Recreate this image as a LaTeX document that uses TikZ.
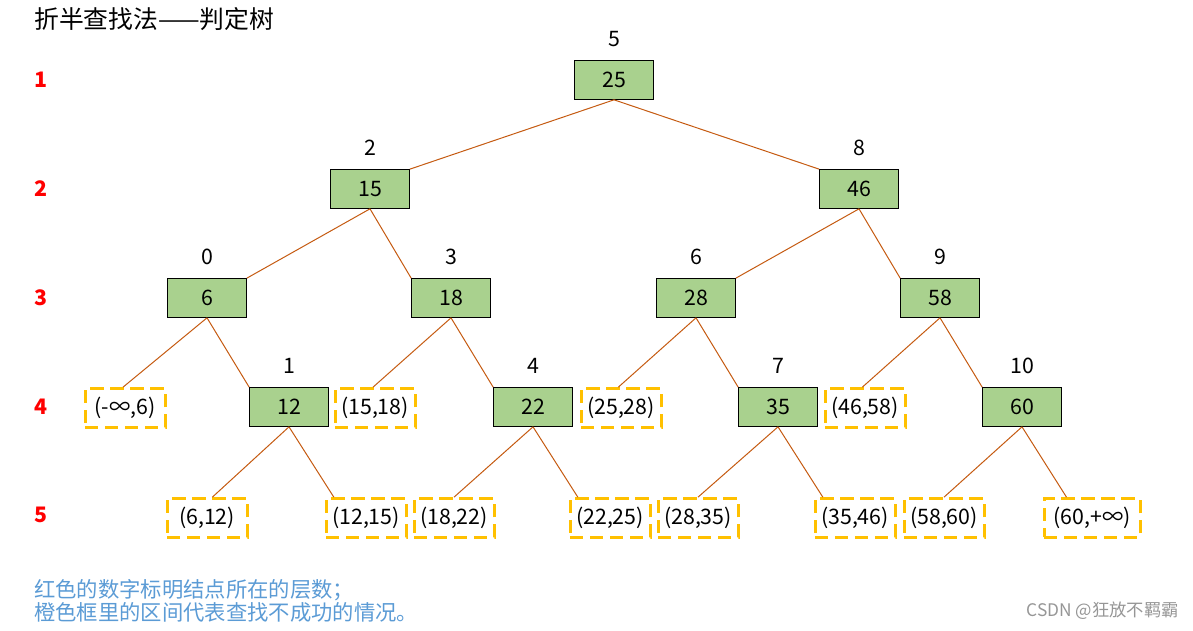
\documentclass[tikz,border=0pt]{standalone}
\usepackage{fontspec}
\setmainfont{Noto Sans CJK SC}
\usetikzlibrary{positioning, calc}
\definecolor{treeKey}{RGB}{169, 209, 142}
\definecolor{treeEdge}{RGB}{197, 90, 17}
\definecolor{treeFail}{RGB}{255, 192, 0}
\definecolor{treeLevel}{RGB}{255, 0, 0}
\definecolor{treeNote}{RGB}{91, 155, 213}
\definecolor{treeMark}{RGB}{150, 150, 150}
\newcommand{\numfont}{\fontsize{16}{18}\selectfont}
\tikzset{
  KeyBox/.style   = {draw, rectangle, line width=0.75pt, fill=treeKey, font=\numfont,
                     minimum width=59pt, minimum height=29pt, inner sep=0pt},
  FailBox/.style  = {draw=treeFail, line width=2.25pt, dash pattern=on 10pt off 5pt,
                     font=\numfont, minimum width=60pt, minimum height=29pt,
                     inner sep=2pt},
  OrderNo/.style  = {font=\numfont, inner sep=0pt, yshift=10pt},
  LevelNo/.style  = {font=\numfont\bfseries, text=treeLevel},
  TreeEdge/.style = {draw=treeEdge, line width=0.75pt},
}

\begin{document}
\begin{tikzpicture}[x=0.75pt, y=-0.75pt]
  \useasboundingbox (0,0) rectangle (1193,631);
  \node[anchor=west, inner sep=0pt, font=\fontsize{18.6}{21}\selectfont] (title) at (34,19) {折半查找法——判定树};
  % level numbers
  \foreach \lv/\y in {1/80, 2/189, 3/298, 4/407, 5/515}
    \node[LevelNo] (lv\lv) at (41,\y) {\lv};
  % key nodes
  \node[KeyBox, label={[OrderNo]above:5}]  (n25) at (614,80)  {25};
  \node[KeyBox, label={[OrderNo]above:2}]  (n15) at (370,189) {15};
  \node[KeyBox, label={[OrderNo]above:8}]  (n46) at (859,189) {46};
  \node[KeyBox, label={[OrderNo]above:0}]  (n6)  at (207,298) {6};
  \node[KeyBox, label={[OrderNo]above:3}]  (n18) at (451,298) {18};
  \node[KeyBox, label={[OrderNo]above:6}]  (n28) at (696,298) {28};
  \node[KeyBox, label={[OrderNo]above:9}]  (n58) at (940,298) {58};
  \node[KeyBox, label={[OrderNo]above:1}]  (n12) at (289,407) {12};
  \node[KeyBox, label={[OrderNo]above:4}]  (n22) at (533,407) {22};
  \node[KeyBox, label={[OrderNo]above:7}]  (n35) at (778,407) {35};
  \node[KeyBox, label={[OrderNo]above:10}] (n60) at (1022,407) {60};
  % failure intervals
  \node[FailBox] (f0)  at (125,408) {(-∞,6)};
  \node[FailBox] (f3)  at (375,408) {(15,18)};
  \node[FailBox] (f6)  at (621,408) {(25,28)};
  \node[FailBox] (f9)  at (865,408) {(46,58)};
  \node[FailBox] (f1)  at (207,518) {(6,12)};
  \node[FailBox] (f2)  at (366,518) {(12,15)};
  \node[FailBox] (f4)  at (454,518) {(18,22)};
  \node[FailBox] (f5)  at (610,518) {(22,25)};
  \node[FailBox] (f7)  at (698,518) {(28,35)};
  \node[FailBox] (f8)  at (855,518) {(35,46)};
  \node[FailBox] (f10) at (944,518) {(58,60)};
  \node[FailBox, minimum width=72pt] (f11) at (1092,518) {(60,+∞)};
  % edges
  \draw[TreeEdge] (n25.south) -- (n15.north east);
  \draw[TreeEdge] (n25.south) -- (n46.north west);
  \draw[TreeEdge] (n15.south) -- (n6.north east);
  \draw[TreeEdge] (n15.south) -- (n18.north west);
  \draw[TreeEdge] (n46.south) -- (n28.north east);
  \draw[TreeEdge] (n46.south) -- (n58.north west);
  \draw[TreeEdge] (n6.south)  -- ([xshift=-1.5pt]f0.north);
  \draw[TreeEdge] (n6.south)  -- (n12.north west);
  \draw[TreeEdge] (n18.south) -- ([xshift=-1.5pt]f3.north);
  \draw[TreeEdge] (n18.south) -- (n22.north west);
  \draw[TreeEdge] (n28.south) -- ([xshift=-2pt]f6.north);
  \draw[TreeEdge] (n28.south) -- (n35.north west);
  \draw[TreeEdge] (n58.south) -- ([xshift=-2pt]f9.north);
  \draw[TreeEdge] (n58.south) -- (n60.north west);
  \draw[TreeEdge] (n12.south) -- ([xshift=4pt]f1.north);
  \draw[TreeEdge] (n12.south) -- ([xshift=7pt]f2.north west);
  \draw[TreeEdge] (n22.south) -- (f4.north);
  \draw[TreeEdge] (n22.south) -- ([xshift=7pt]f5.north west);
  \draw[TreeEdge] (n35.south) -- (f7.north);
  \draw[TreeEdge] (n35.south) -- ([xshift=7pt]f8.north west);
  \draw[TreeEdge] (n60.south) -- (f10.north);
  \draw[TreeEdge] (n60.south) -- ([xshift=18pt]f11.north west);
  % notes
  \node[anchor=west, inner sep=0pt, align=left, text=treeNote,
        font=\fontsize{16}{17.25}\selectfont] (note) at (34,601)
    {红色的数字标明结点所在的层数；\\橙色框里的区间代表查找不成功的情况。};
  \node[anchor=east, inner sep=0pt, text=treeMark, font=\fontsize{13}{15}\selectfont]
    (mark) at (1179,611) {CSDN @狂放不羁霸};
\end{tikzpicture}
\end{document}
